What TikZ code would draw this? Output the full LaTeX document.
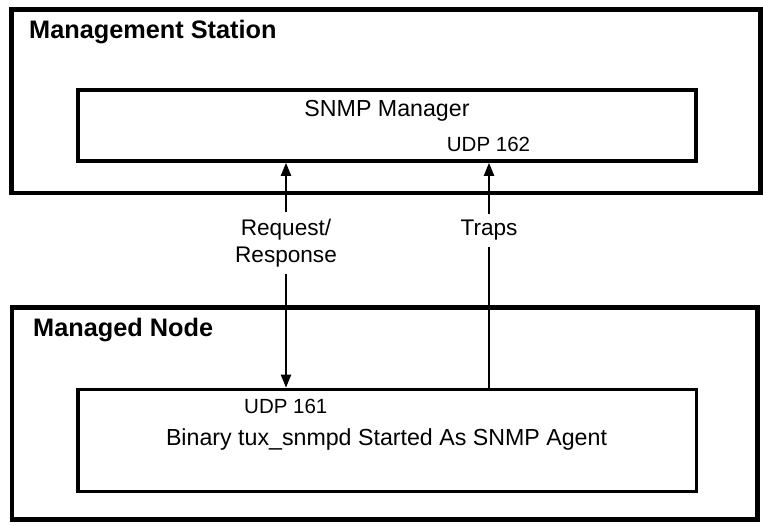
\documentclass[tikz,border=0pt]{standalone}
\usepackage{fontspec}
\setmainfont{Liberation Sans}
\usetikzlibrary{arrows.meta}
\tikzset{
  frame/.style={rectangle, draw, line width=4.8pt, inner sep=0pt},
  unit/.style={rectangle, draw, line width=3.6pt, inner sep=0pt},
  title/.style={font=\fontsize{25.3}{30}\selectfont\bfseries, anchor=base west, inner sep=0pt},
  txt/.style={font=\fontsize{23.2}{27}\selectfont, anchor=base, inner sep=0pt},
  port/.style={font=\fontsize{20.5}{24}\selectfont, anchor=base, inner sep=0pt},
  lbl/.style={font=\fontsize{22.6}{27}\selectfont, align=center, inner sep=6.5pt},
  link/.style={line width=2pt},
  flow/.style={line width=2pt, -{Triangle[length=13pt, width=10pt]}}
}
\begin{document}
\begin{tikzpicture}[x=1pt, y=1pt]
  \useasboundingbox (0,0) rectangle (763,526);
  % Nodes
  \node (ms) [frame, minimum width=748.7pt, minimum height=183.5pt] at (386.1, 424.75) {};
  \node (mgr) [unit, minimum width=618pt, minimum height=71pt] at (387, 400.5) {};
  \node (mn) [frame, minimum width=745.5pt, minimum height=212pt] at (384.75, 112.5) {};
  \node (agt) [unit, minimum width=618.5pt, minimum height=102pt] at (387.25, 85.5) {};
  \node (ms-t) [title] at (29, 487.7) {Management Station};
  \node (mn-t) [title] at (33, 189) {Managed Node};
  \node (mgr-t) [txt] at (387, 409.3) {SNMP Manager};
  \node (p162) [port] at (488.5, 374) {UDP 162};
  \node (p161) [port] at (285.8, 112) {UDP 161};
  \node (agt-t) [txt] at (386.5, 80) {Binary tux\_snmpd Started As SNMP Agent};
  \node (rr) [lbl] at (286, 283) {Request/\\Response};
  \node (traps) [lbl] at (489, 295.5) {Traps};
  % Arrow
  \draw[flow] (rr) -- (mgr.south -| rr);
  \draw[flow] (rr) -- (agt.north -| rr);

  \draw[link] (agt.north -| traps) -- (traps);
  \draw[flow] (traps) -- (mgr.south -| traps);
\end{tikzpicture}
\end{document}
